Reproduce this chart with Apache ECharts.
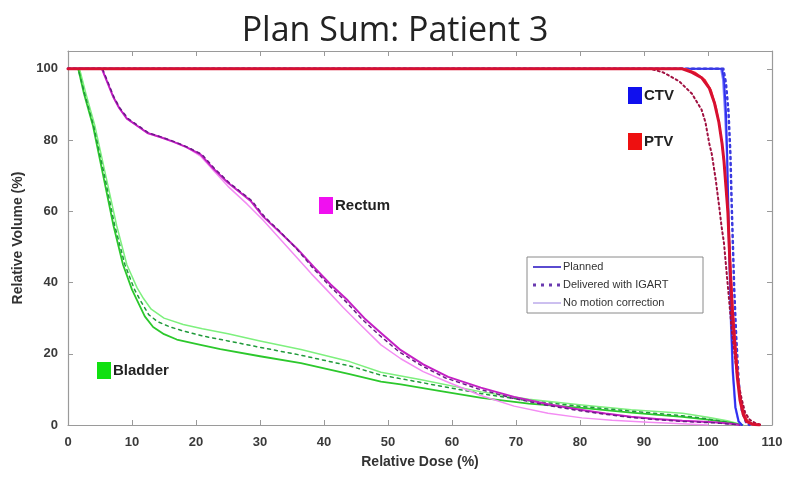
<!DOCTYPE html>
<html>
<head>
<meta charset="utf-8">
<script src="https://cdn.jsdelivr.net/npm/echarts@6/dist/echarts.min.js"></script>
<style>
  html, body { margin: 0; padding: 0; background: #fff; }
  #chart { width: 790px; height: 478px; }
</style>
</head>
<body>
<div id="chart"></div>
<script>
// Dose-volume histograms, [relative dose %, relative volume %]
const xTicks = [0, 10, 20, 30, 40, 50, 60, 70, 80, 90, 100, 110];
const yTicks = [0, 20, 40, 60, 80, 100];

const bladderPlanned = [[0,100],[1.6,100],[2.5,93],[3.9,84],[5.5,70],[7.1,56],[8.6,45],[10,38],[10.8,35],[12,30.5],[13.3,27.5],[15,25.5],[17,24],[20.7,22.5],[23.8,21.3],[30,19.3],[36.4,17.4],[44,14.3],[48.9,12.2],[52,11.4],[58,9.6],[64.6,7.6],[72,6],[80.3,4.8],[88,3.5],[96,2.3],[100,1.5],[103,0.8],[105.3,0]];
const bladderDelivered = [[0,100],[1.6,100],[2.6,93],[4,84],[5.7,70],[7.3,56],[8.9,45],[10.4,38],[11.3,35],[12.6,31],[14,29],[16,27.5],[18,26.4],[21,25],[25,23.6],[30,21.8],[36.4,19.6],[44,16.6],[48.9,14],[55,12],[64.6,8.8],[72,6.8],[80.3,5.2],[88,3.9],[96,2.6],[100,1.7],[103,0.8],[105.5,0]];
const bladderNoMotion = [[0,100],[1.8,100],[2.8,93],[4.2,84],[5.9,70],[7.6,56],[9.2,45],[10.8,38.5],[11.8,35.5],[13,32.5],[15,30],[18,28.2],[21,27],[25,25.6],[30,23.6],[36.4,21.2],[44,17.8],[48.9,14.8],[55,12.8],[64.6,9.3],[72,7.2],[80.3,5.6],[88,4.3],[96,3.3],[100,2.2],[103,1.2],[105.5,0]];

const rectumPlanned = [[0,100],[5.3,100],[6.2,96],[7.1,92],[8,89],[9.2,86],[10.8,84],[12.4,82],[14.5,80.8],[16.5,79.5],[18.5,78],[20.7,76],[22.7,72],[25,68],[28.5,63],[30.5,58.5],[33.2,54],[35.8,49.5],[38.4,44.4],[41,39.5],[43.7,35],[46.3,30],[48.9,25.8],[52,21],[55.5,17],[59.4,13.5],[64.5,10.5],[69.7,7.9],[75,5.8],[80.3,4.2],[84,3.2],[88,2.3],[92,1.7],[96,1.2],[101,0.8],[104,0.3],[105,0]];
const rectumDelivered = [[0,100],[5.4,100],[6.3,96],[7.2,92],[8.1,89],[9.4,86],[11,84],[12.6,82],[14.7,80.8],[16.7,79.5],[18.7,78],[20.9,76],[22.9,72],[25.2,68],[28.7,63],[30.7,58.5],[33.3,54],[35.8,49.3],[38.3,44],[40.9,39],[43.5,34.5],[46,29.6],[48.6,25.3],[51.7,20.6],[55.2,16.7],[59,13.2],[64,10.2],[69.3,7.6],[74.6,5.6],[80,4],[84,3],[88,2.1],[92,1.5],[96,1],[101,0.6],[104,0.2],[105,0]];
const rectumNoMotion = [[0,100],[5.3,100],[6.2,96],[7.1,92],[8,89],[9.2,86],[10.8,84],[12.4,82],[14.5,80.8],[16.5,79.5],[18.5,78],[20.7,75.5],[22.7,71.5],[25,67],[28,62],[30.5,57.5],[33,52.5],[35.5,47.5],[38,42.5],[40.5,37.8],[43,33],[45.5,28.5],[48.9,22.5],[52,18.6],[55.5,15],[59.4,12],[64.5,8.3],[69.7,5.3],[75,3.3],[80.3,2],[85,1.3],[90.7,0.8],[95,0.4],[100,0]];

const ctvPlanned = [[0,100],[102.2,100],[102.5,97],[102.8,88],[103,76],[103.2,60],[103.4,45],[103.6,30],[103.9,15],[104.3,5],[104.8,1],[105.3,0]];
const ctvDelivered = [[0,100],[102.4,100],[102.8,96],[103.2,88],[103.5,76],[103.7,62],[103.9,50],[104.1,38],[104.4,25],[104.8,12],[105.3,4],[106,0.5],[106.5,0]];
const ctvNoMotion = [[0,100],[102,100],[102.3,97],[102.6,88],[102.9,76],[103.1,60],[103.3,45],[103.5,30],[103.8,15],[104.2,5],[104.7,1],[105.2,0]];

const ptvPlanned = [[0,100],[96,100],[97.5,99],[99,97.5],[100.2,94.6],[101,90.5],[101.7,85],[102.2,79],[102.5,74],[102.8,67],[103.1,60],[103.3,51],[103.5,42],[103.8,32],[104.2,22],[104.6,13],[105,7],[105.5,3],[106,1],[107,0.2],[108,0]];
const ptvDelivered = [[0,100],[91,100],[93,99],[95.5,96.5],[97.5,93],[99,88.5],[99.6,85],[100.2,79],[100.6,76],[101.2,69],[101.7,62],[102.1,56],[102.5,51],[102.9,43],[103.3,35],[103.7,27],[104.2,19],[104.7,12],[105.3,7],[105.8,3.5],[106.5,1.5],[107.5,0.4],[108.5,0]];
const ptvNoMotion = [[0,100],[96.5,100],[98,99],[99.5,97],[100.5,94],[101.3,89],[101.9,83],[102.3,77],[102.7,70],[103,62],[103.3,53],[103.6,43],[103.9,33],[104.3,23],[104.7,14],[105.1,8],[105.6,3.5],[106.2,1.2],[107,0.3],[107.8,0]];

const structureLabels = ['CTV', 'PTV', 'Rectum', 'Bladder'];
const legendLabels = ['Planned', 'Delivered with IGART', 'No motion correction'];

const chart = echarts.init(document.getElementById('chart'), null, { renderer: 'canvas' });

function curve(name, data, color, width, dash, z) {
  return {
    name: name,
    type: 'line',
    data: data,
    showSymbol: false,
    smooth: false,
    animation: false,
    z: z,
    lineStyle: { color: color, width: width, type: dash || 'solid', join: 'round', cap: 'round' }
  };
}

const axisColor = '#9a9a9a';
const tickLabel = { fontFamily: 'Liberation Sans, Arial', fontWeight: 'bold', fontSize: 13, color: '#3a3a3a' };

function xAxisDef(pos, showLabels) {
  return {
    type: 'value', position: pos, min: 0, max: 110, interval: 10,
    axisLine: { show: true, onZero: false, lineStyle: { color: axisColor, width: 1.2 } },
    axisTick: { show: true, inside: true, length: 5, lineStyle: { color: axisColor } },
    axisLabel: Object.assign({ show: showLabels, margin: 11 }, tickLabel),
    splitLine: { show: false },
    name: showLabels ? 'Relative Dose (%)' : '',
    nameLocation: 'middle', nameGap: 30,
    nameTextStyle: { fontFamily: 'Liberation Sans, Arial', fontWeight: 'bold', fontSize: 14, color: '#333' }
  };
}
function yAxisDef(pos, showLabels) {
  return {
    type: 'value', position: pos, min: 0, max: 105, interval: 20,
    axisLine: { show: true, onZero: false, lineStyle: { color: axisColor, width: 1.2 } },
    axisTick: { show: true, inside: true, length: 5, lineStyle: { color: axisColor } },
    axisLabel: Object.assign({
      show: showLabels, margin: 10,
      formatter: function (v) { return yTicks.indexOf(v) >= 0 ? String(v) : ''; }
    }, tickLabel),
    splitLine: { show: false },
    name: showLabels ? 'Relative Volume (%)' : '',
    nameLocation: 'middle', nameGap: 36, nameRotate: 90,
    nameTextStyle: { fontFamily: 'Liberation Sans, Arial', fontWeight: 'bold', fontSize: 14, color: '#333' }
  };
}

// Structure name tags: coloured square + bold label
function tag(x, y, color, text) {
  return [
    { type: 'rect', shape: { x: x, y: y, width: 14, height: 17 }, style: { fill: color }, z: 20 },
    { type: 'text', x: x + 16, y: y + 9, style: { text: text, fill: '#222', font: 'bold 15px "Liberation Sans", Arial', textVerticalAlign: 'middle' }, z: 20 }
  ];
}

const legendX = 527, legendY = 257;
const legendColor = '#5a4bd0';
const graphics = [].concat(
  tag(628, 87, '#1010ee', structureLabels[0]),
  tag(628, 133, '#ee1010', structureLabels[1]),
  tag(319, 197, '#f010f0', structureLabels[2]),
  tag(97, 362, '#10e010', structureLabels[3]),
  [
    { type: 'rect', shape: { x: legendX, y: legendY, width: 176, height: 56 }, style: { fill: '#fff', stroke: '#8a8a8a', lineWidth: 1 }, z: 30 },
    { type: 'line', shape: { x1: legendX + 6, y1: legendY + 10, x2: legendX + 34, y2: legendY + 10 }, style: { stroke: legendColor, lineWidth: 2 }, z: 31 },
    { type: 'line', shape: { x1: legendX + 6, y1: legendY + 28, x2: legendX + 34, y2: legendY + 28 }, style: { stroke: '#6a3ab0', lineWidth: 3, lineDash: [3, 5] }, z: 31 },
    { type: 'line', shape: { x1: legendX + 6, y1: legendY + 46, x2: legendX + 34, y2: legendY + 46 }, style: { stroke: '#9a80e0', lineWidth: 1 }, z: 31 },
    { type: 'text', x: legendX + 36, y: legendY + 10, style: { text: legendLabels[0], fill: '#333', font: '11px "Liberation Sans", Arial', textVerticalAlign: 'middle' }, z: 31 },
    { type: 'text', x: legendX + 36, y: legendY + 28, style: { text: legendLabels[1], fill: '#333', font: '11px "Liberation Sans", Arial', textVerticalAlign: 'middle' }, z: 31 },
    { type: 'text', x: legendX + 36, y: legendY + 46, style: { text: legendLabels[2], fill: '#333', font: '11px "Liberation Sans", Arial', textVerticalAlign: 'middle' }, z: 31 }
  ]
);

chart.setOption({
  backgroundColor: '#ffffff',
  animation: false,
  title: {
    text: 'Plan Sum: Patient 3',
    left: 'center', top: 9,
    textStyle: { fontFamily: 'Open Sans, Noto Sans', fontWeight: 'normal', fontSize: 34, color: '#222' }
  },
  grid: { left: 68, right: 18, top: 51, bottom: 53 },
  xAxis: [xAxisDef('bottom', true), xAxisDef('top', false)],
  yAxis: [yAxisDef('left', true), yAxisDef('right', false)],
  series: [
    curve('Bladder no motion', bladderNoMotion, '#7ef07e', 1.5, null, 2),
    curve('Bladder planned', bladderPlanned, '#2cc82c', 1.8, null, 3),
    curve('Bladder delivered', bladderDelivered, '#1f9a3a', 1.5, [3, 4], 4),
    curve('Rectum no motion', rectumNoMotion, '#f38cf3', 1.5, null, 5),
    curve('Rectum planned', rectumPlanned, '#c41fc4', 2, null, 6),
    curve('Rectum delivered', rectumDelivered, '#6c1a88', 1.5, [3, 4], 7),
    curve('CTV no motion', ctvNoMotion, '#8080ff', 1.5, null, 8),
    curve('CTV planned', ctvPlanned, '#3030f0', 2, null, 9),
    curve('CTV delivered', ctvDelivered, '#3a3ae0', 2.5, [2, 4], 10),
    curve('PTV no motion', ptvNoMotion, '#ff3030', 1.5, null, 11),
    curve('PTV delivered', ptvDelivered, '#a01040', 2, [2, 3], 12),
    curve('PTV planned', ptvPlanned, '#d81030', 3, null, 13)
  ],
  graphic: graphics
});
</script>
</body>
</html>
